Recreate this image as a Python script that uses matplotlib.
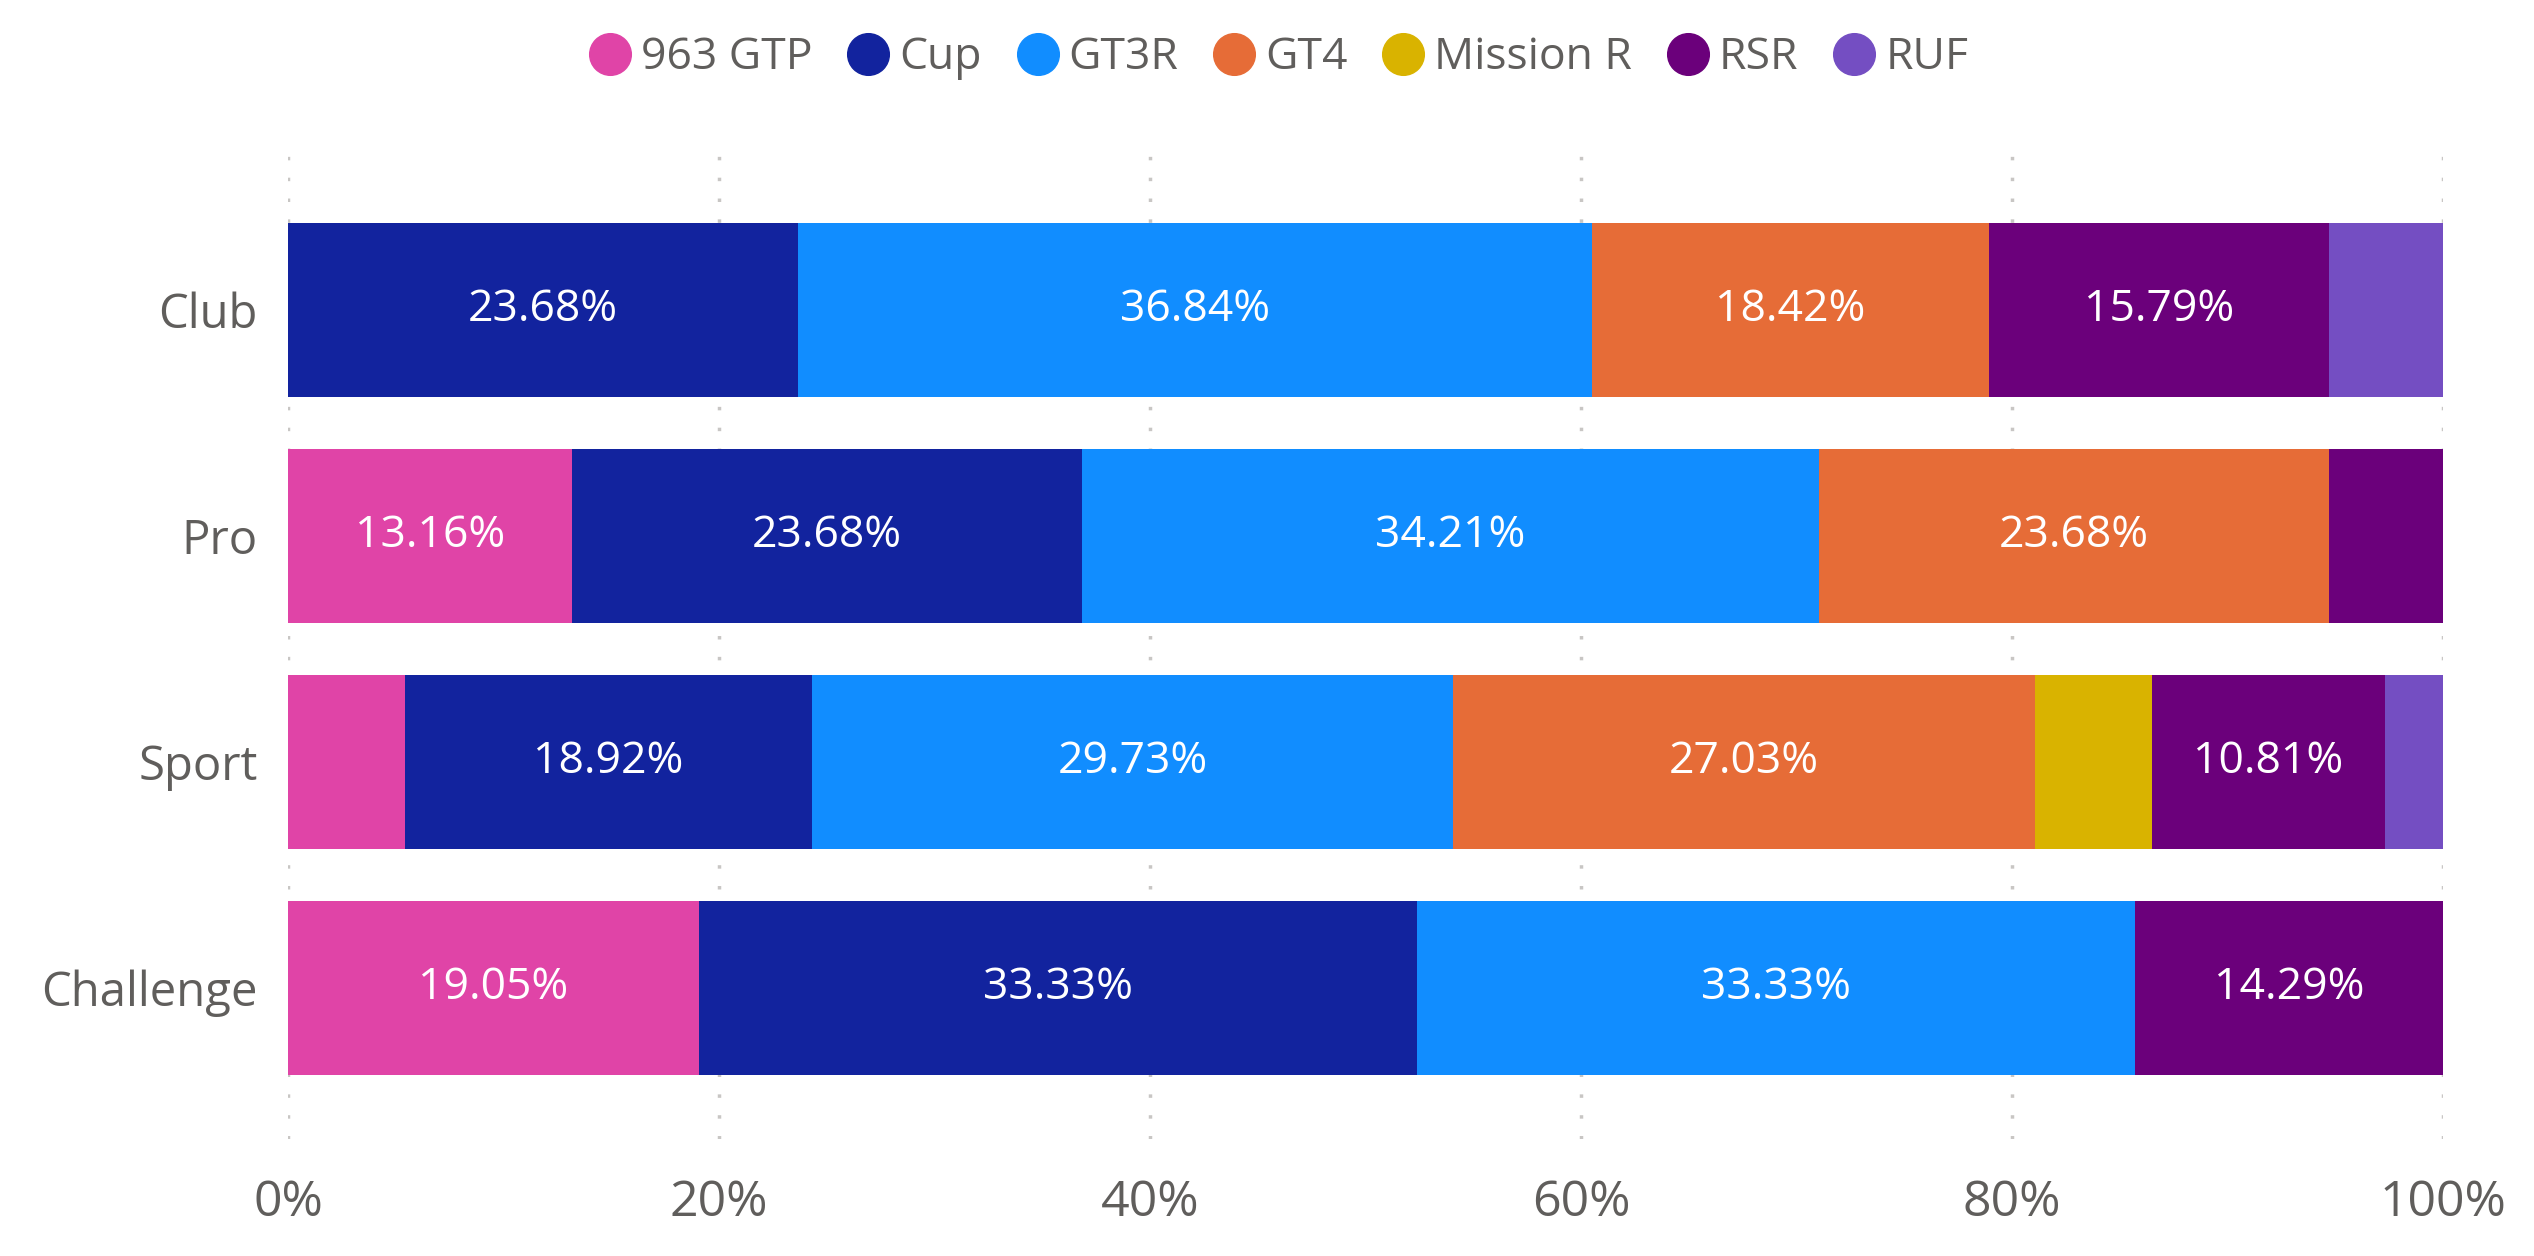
import matplotlib
matplotlib.use("Agg")
import matplotlib.pyplot as plt
from matplotlib.lines import Line2D
from matplotlib.ticker import FuncFormatter

plt.rcParams['font.family'] = ['Open Sans', 'DejaVu Sans']

# data (percent of each level)
levels = ["Club", "Pro", "Sport", "Challenge"]
series = ["963 GTP", "Cup", "GT3R", "GT4", "Mission R", "RSR", "RUF"]
gtp963 = [0.0, 13.16, 5.41, 19.05]
cup = [23.68, 23.68, 18.92, 33.33]
gt3r = [36.84, 34.21, 29.73, 33.33]
gt4 = [18.42, 23.68, 27.03, 0.0]
mission_r = [0.0, 0.0, 5.41, 0.0]
rsr = [15.79, 5.26, 10.81, 14.29]
ruf = [5.26, 0.0, 2.70, 0.0]
values = [gtp963, cup, gt3r, gt4, mission_r, rsr, ruf]
colors = ["#E044A7", "#12239E", "#118DFF", "#E66C37", "#D9B300", "#6B007B", "#744EC2"]

fig = plt.figure(figsize=(25.34, 12.56), dpi=100)
ax = fig.add_axes([0.1137, 0.093, 0.8503, 0.788])

ypos = list(range(len(levels)))[::-1]
left = [0.0] * len(levels)
for name, vals, col in zip(series, values, colors):
    ax.barh(ypos, vals, left=left, height=0.77, color=col, linewidth=0)
    for y, l, v in zip(ypos, left, vals):
        if v >= 8:
            ax.text(l + v / 2, y, f"{v:.2f}%", ha="center", va="center",
                    color="white", fontsize=32)
    left = [a + b for a, b in zip(left, vals)]

ax.set_xlim(0, 100)
ax.set_ylim(-0.67, 3.71)
ax.set_yticks(ypos)
ax.set_yticklabels(levels)
ax.set_xticks([0, 20, 40, 60, 80, 100])
ax.xaxis.set_major_formatter(FuncFormatter(lambda x, p: f"{x:.0f}%"))
ax.tick_params(axis="both", length=0, labelcolor="#605E5C")
ax.tick_params(axis="x", labelsize=36, pad=28)
ax.tick_params(axis="y", labelsize=34, pad=22)
ax.grid(axis="x", color="#C8C6C4", linestyle=(0, (1, 5)), linewidth=2.5)
ax.set_axisbelow(True)
for s in ax.spines.values():
    s.set_visible(False)

handles = [Line2D([0], [0], marker="o", linestyle="", markersize=30,
                  markerfacecolor=c, markeredgecolor=c) for c in colors]
fig.legend(handles, series, loc="upper center", bbox_to_anchor=(0.5, 1.005),
           ncol=len(series), frameon=False, fontsize=32, labelcolor="#605E5C",
           handletextpad=-0.3, columnspacing=0.25, borderpad=0.45)

fig.savefig("out.png", dpi=100)
